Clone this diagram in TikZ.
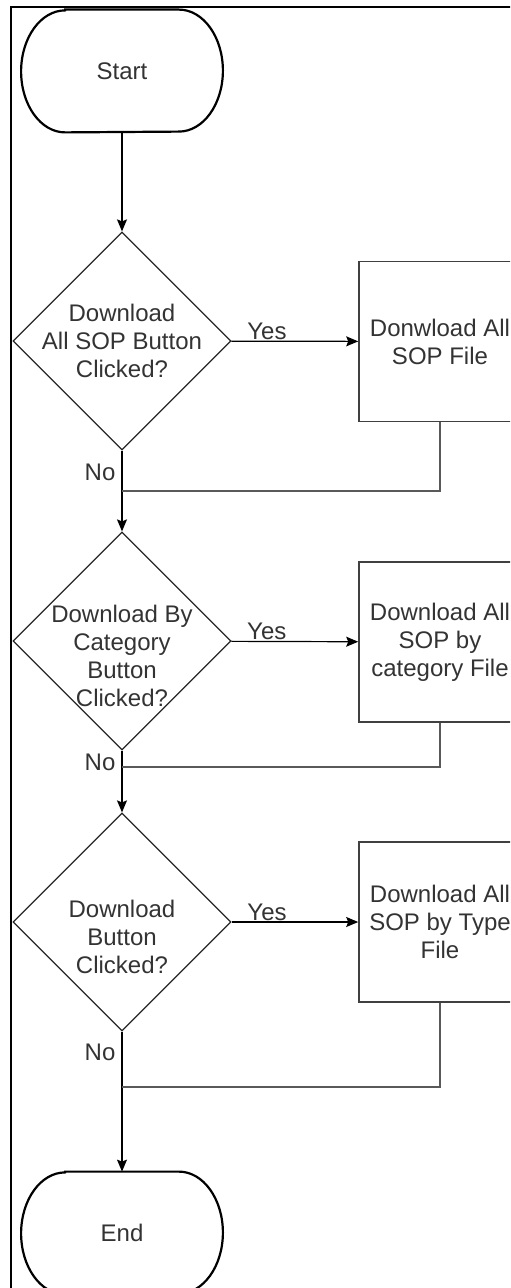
\documentclass[tikz,border=0pt]{standalone}
\usepackage{fontspec}
\setmainfont{Liberation Sans}
\usetikzlibrary{shapes.geometric,arrows.meta}

\begin{document}
\begin{tikzpicture}[x=0.5pt,y=-0.5pt,
  every node/.style={font=\fontsize{12}{14}\selectfont,text=black!80},
  term/.style={minimum width=100.5pt,minimum height=61pt},
  termline/.style={draw=black,line width=1.1pt},
  decision/.style={draw=black!85,line width=0.6pt,diamond,aspect=1,inner sep=0pt,minimum size=109pt},
  dectext/.style={align=center,inner sep=0pt},
  process/.style={draw=black!75,line width=0.8pt,minimum width=81pt,minimum height=80pt,align=center},
  flow/.style={draw=black,line width=0.6pt,-{Stealth[length=6pt,width=5pt,inset=1pt]}},
  back/.style={draw=black!65,line width=0.9pt},
  yes/.style={pos=0.28,anchor=base,inner sep=0pt,yshift=1pt},
  no/.style={left,inner sep=3pt}]
  \useasboundingbox (0,0) rectangle (510,1288);
  \clip (0,0) rectangle (510,1288);
  \draw[line width=1pt] (11,7) rectangle (540,1320);

  \node[term] (start) at (122,71) {Start};
  \draw[termline] ([xshift=22pt]start.north west) -- ([xshift=-22pt]start.north east)
    arc[start angle=90,end angle=-90,x radius=22pt,y radius=30.5pt]
    -- ([xshift=22pt]start.south west)
    arc[start angle=270,end angle=90,x radius=22pt,y radius=30.5pt] -- cycle;

  \node[decision] (dec1) at (122,341) {};
  \node[dectext] (dec1txt) at (122,341) {Download\\All SOP Button\\Clicked?};
  \node[process] (act1) at (440,341.5) {Donwload All\\SOP File};

  \node[decision] (dec2) at (122,641) {};
  \node[dectext] (dec2txt) at (122,656) {Download By\\Category\\Button\\Clicked?};
  \node[process] (act2) at (440,642) {Download All\\SOP by\\category File};

  \node[decision] (dec3) at (122,922) {};
  \node[dectext] (dec3txt) at (122,937) {Download\\Button\\Clicked?};
  \node[process] (act3) at (440,922) {Download All\\SOP by Type\\File};

  \node[term] (stop) at (122,1233) {End};
  \draw[termline] ([xshift=22pt]stop.north west) -- ([xshift=-22pt]stop.north east)
    arc[start angle=90,end angle=-90,x radius=22pt,y radius=30.5pt]
    -- ([xshift=22pt]stop.south west)
    arc[start angle=270,end angle=90,x radius=22pt,y radius=30.5pt] -- cycle;

  \coordinate (j1) at (122,491);
  \coordinate (j2) at (122,767);
  \coordinate (j3) at (122,1087);

  \draw[flow] (start) -- (dec1);
  \draw[flow] (dec1) -- node[yes] {Yes} (act1);
  \draw[flow] (dec1) -- node[no,pos=0.27] {No} (dec2);
  \draw[back] (act1.south) |- (j1);

  \draw[flow] (dec2) -- node[yes] {Yes} (act2);
  \draw[flow] (dec2) -- node[no,pos=0.19] {No} (dec3);
  \draw[back] (act2.south) |- (j2);

  \draw[flow] (dec3) -- node[yes] {Yes} (act3);
  \draw[flow] (dec3) -- node[no,pos=0.15] {No} (stop);
  \draw[back] (act3.south) |- (j3);
\end{tikzpicture}
\end{document}
